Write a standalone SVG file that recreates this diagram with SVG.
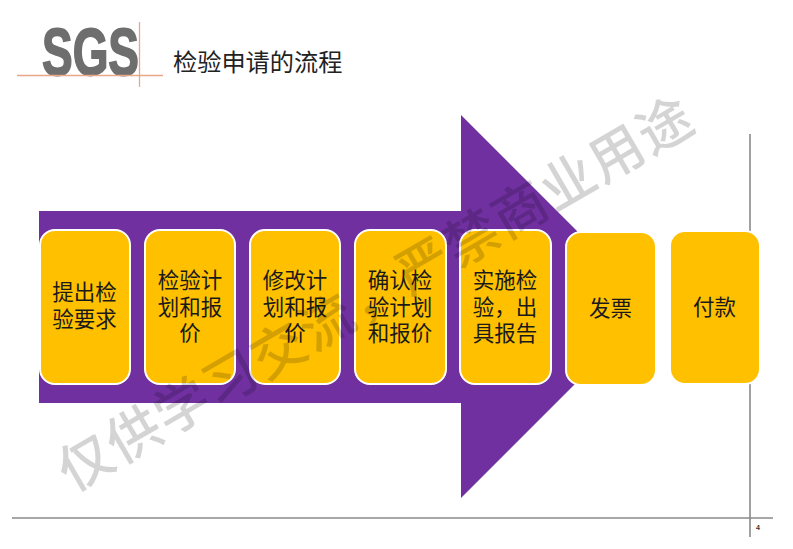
<svg xmlns="http://www.w3.org/2000/svg" width="793" height="549" viewBox="0 0 793 549">
<style>
.cjk{font-family:"Noto Sans CJK SC","Noto Sans CJK JP",sans-serif}
.box{fill:#ffc000;stroke:#fff;stroke-width:2}
.lbl{font-size:21.500px;fill:#1a1a1a;text-anchor:middle}
.rule{stroke:#8a8a8a;stroke-width:1.6;fill:none}
.logo{stroke:#e8a888;stroke-width:1.3;fill:none}
</style>
<rect width="793" height="549" fill="#fff"/>
<g id="frame">
<path class="rule" d="M750 134V537M12 518H773"/>
<text x="758" y="530" font-family="Liberation Sans,sans-serif" font-size="7" font-weight="bold" fill="#333" text-anchor="middle">4</text>
</g>
<g id="logo">
<text x="42" y="74.500" font-family="Liberation Sans,sans-serif" font-size="66" font-weight="bold" fill="#6e6e6e" stroke="#6e6e6e" stroke-width="1.800" textLength="97" lengthAdjust="spacingAndGlyphs">SGS</text>
<path class="logo" d="M17 75.500H163M139.500 22V87"/>
</g>
<text id="title" class="cjk" x="173" y="71" font-size="24.200" fill="#222">检验申请的流程</text>
<path id="arrow" fill="#7030a0" d="M39 211H461V115L652.500 306.500L461 498V403H39Z"/>
<g id="node1"><rect class="box" x="40" y="230" width="90" height="154" rx="15"/>
<text class="cjk lbl" y="300"><tspan x="84.500">提出检</tspan><tspan x="84.500" dy="26.500">验要求</tspan></text></g>
<g id="node2"><rect class="box" x="145" y="230" width="90" height="154" rx="15"/>
<text class="cjk lbl" y="288"><tspan x="190">检验计</tspan><tspan x="190" dy="26.500">划和报</tspan><tspan x="190" dy="26.500">价</tspan></text></g>
<g id="node3"><rect class="box" x="250" y="230" width="90" height="154" rx="15"/>
<text class="cjk lbl" y="288"><tspan x="295">修改计</tspan><tspan x="295" dy="26.500">划和报</tspan><tspan x="295" dy="26.500">价</tspan></text></g>
<g id="node4"><rect class="box" x="355" y="230" width="91" height="154" rx="15"/>
<text class="cjk lbl" y="288"><tspan x="400">确认检</tspan><tspan x="400" dy="26.500">验计划</tspan><tspan x="400" dy="26.500">和报价</tspan></text></g>
<g id="node5"><rect class="box" x="460" y="230" width="91" height="154" rx="15"/>
<text class="cjk lbl" y="288"><tspan x="505">实施检</tspan><tspan x="505" dy="26.500">验，出</tspan><tspan x="505" dy="26.500">具报告</tspan></text></g>
<g id="node6"><rect class="box" x="566" y="232" width="90" height="153" rx="15"/>
<text class="cjk lbl" x="610.500" y="316">发票</text></g>
<g id="node7"><rect class="box" x="670" y="231" width="90" height="153" rx="15"/>
<text class="cjk lbl" x="714.500" y="315">付款</text></g>
<g id="connectors"></g>
<text id="watermark" class="cjk" transform="translate(72 493) rotate(-30.200)" font-size="54" font-weight="500" fill="#000" fill-opacity="0.17" textLength="724">仅供学习交流，严禁商业用途</text>
</svg>
